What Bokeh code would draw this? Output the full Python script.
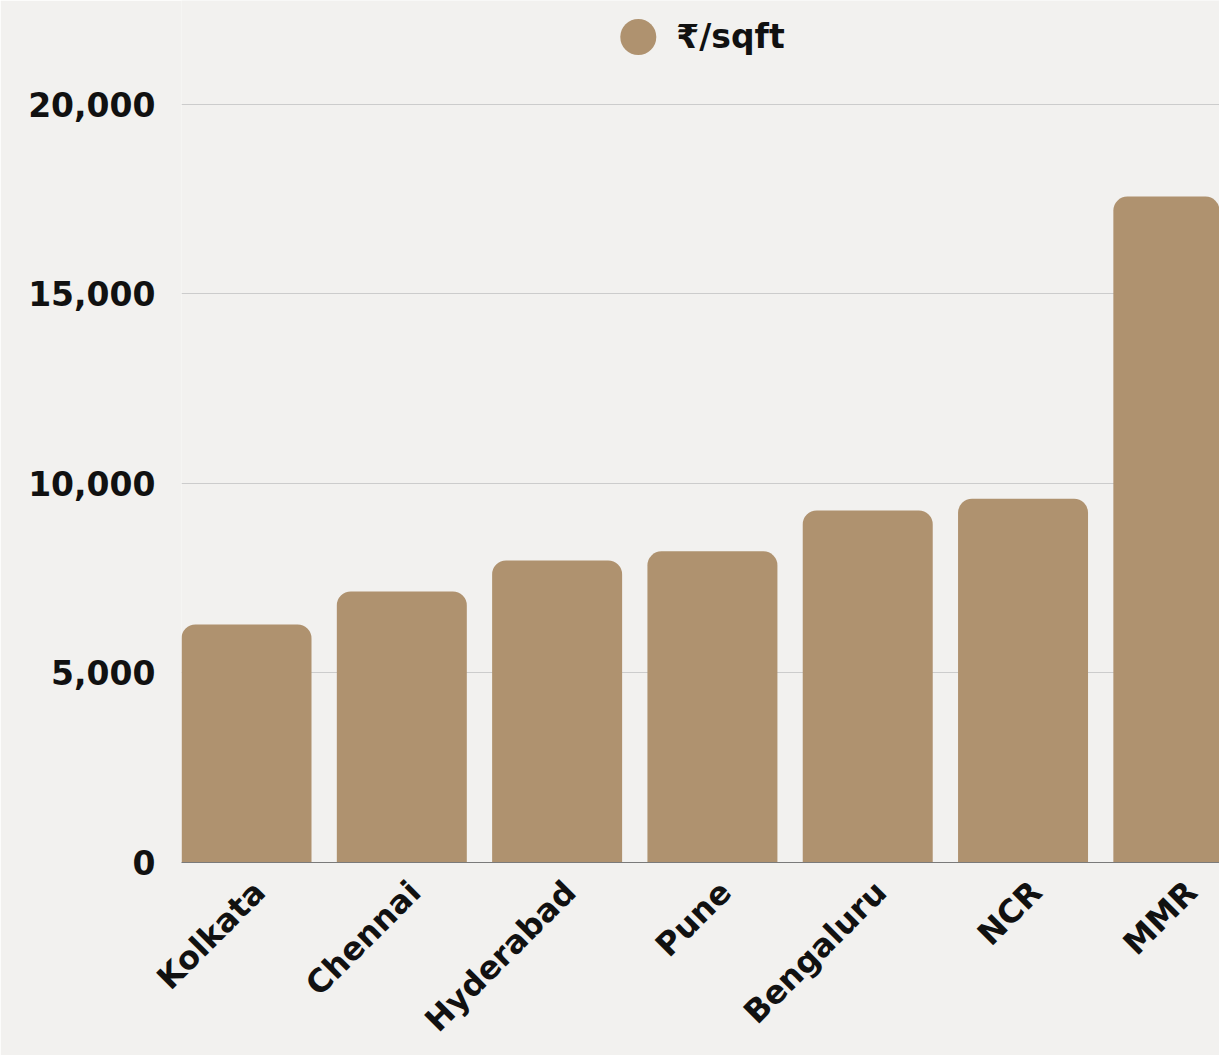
import math
import numpy as np
from bokeh.plotting import figure
from bokeh.models import (Range1d, FixedTicker, NumeralTickFormatter, Legend,
                          LegendItem, ColumnDataSource)
from bokeh.embed import file_html
from bokeh.resources import INLINE

cities = ["Kolkata", "Chennai", "Hyderabad", "Pune", "Bengaluru", "NCR", "MMR"]
price = [6280, 7150, 7970, 8210, 9290, 9600, 17570]
series_name = "₹/sqft"
y_ticks = [0, 5000, 10000, 15000, 20000]

BAR = "#AF926F"
BG = "#F2F1EF"
FONT = "DejaVu Sans"

x = list(range(len(cities)))
src = ColumnDataSource(dict(x=x, price=price, city=cities))

X0, X1 = -0.4186, 6.265
LABEL_SHIFT = 0.084  # category-label offset to the right (in category units)

p = figure(width=1219, height=1055,
           x_range=Range1d(X0, X1), y_range=Range1d(0, 22744),
           output_backend="svg", toolbar_location=None,
           min_border_left=181, min_border_right=0,
           min_border_top=0, min_border_bottom=193)
p.extra_x_ranges = {"lab": Range1d(X0 - LABEL_SHIFT, X1 - LABEL_SHIFT)}
p.background_fill_color = BG
p.border_fill_color = BG
p.outline_line_color = None

p.vbar(x="x", top="price", width=0.837, source=src, fill_color=BAR,
       line_color=None, border_radius=(14, 14, 0, 0))

# legend proxy (not drawn in the plot area: NaN position)
proxy = p.ellipse(x=np.array([np.nan]), y=np.array([np.nan]),
                  width=36, height=36, width_units="screen", height_units="screen",
                  fill_color=BAR, line_color=None)
legend = Legend(items=[LegendItem(label=series_name, renderers=[proxy])],
                location="top_center", orientation="horizontal",
                glyph_width=45, glyph_height=45, label_standoff=16,
                label_text_font=FONT, label_text_font_size="33px",
                label_text_font_style="bold", label_text_color="#111111",
                label_text_baseline="middle",
                background_fill_alpha=0, border_line_alpha=0,
                padding=0, margin=14)
p.add_layout(legend)

p.xgrid.visible = False
p.ygrid.grid_line_color = "#CCCCCC"
p.ygrid.grid_line_width = 1

p.yaxis.ticker = FixedTicker(ticks=y_ticks)
p.yaxis.formatter = NumeralTickFormatter(format="0,0")
p.yaxis.axis_line_color = None
p.yaxis.major_tick_line_color = None
p.yaxis.minor_tick_line_color = None
p.yaxis.major_label_standoff = 20
p.yaxis.major_label_text_font = FONT
p.yaxis.major_label_text_font_size = "33px"
p.yaxis.major_label_text_font_style = "bold"
p.yaxis.major_label_text_color = "#111111"

xa = p.xaxis[0]
xa.x_range_name = "lab"
xa.ticker = FixedTicker(ticks=x)
xa.major_label_overrides = {i: c for i, c in zip(x, cities)}
xa.major_label_orientation = math.pi / 4
xa.axis_line_color = "#7A7A7A"
xa.axis_line_width = 1
xa.major_tick_line_color = None
xa.minor_tick_line_color = None
xa.major_tick_out = 0
xa.major_tick_in = 0
xa.major_label_standoff = 24
xa.major_label_text_font = FONT
xa.major_label_text_font_size = "32px"
xa.major_label_text_font_style = "bold"
xa.major_label_text_color = "#111111"

open("out.html", "w").write(file_html(p, INLINE))
